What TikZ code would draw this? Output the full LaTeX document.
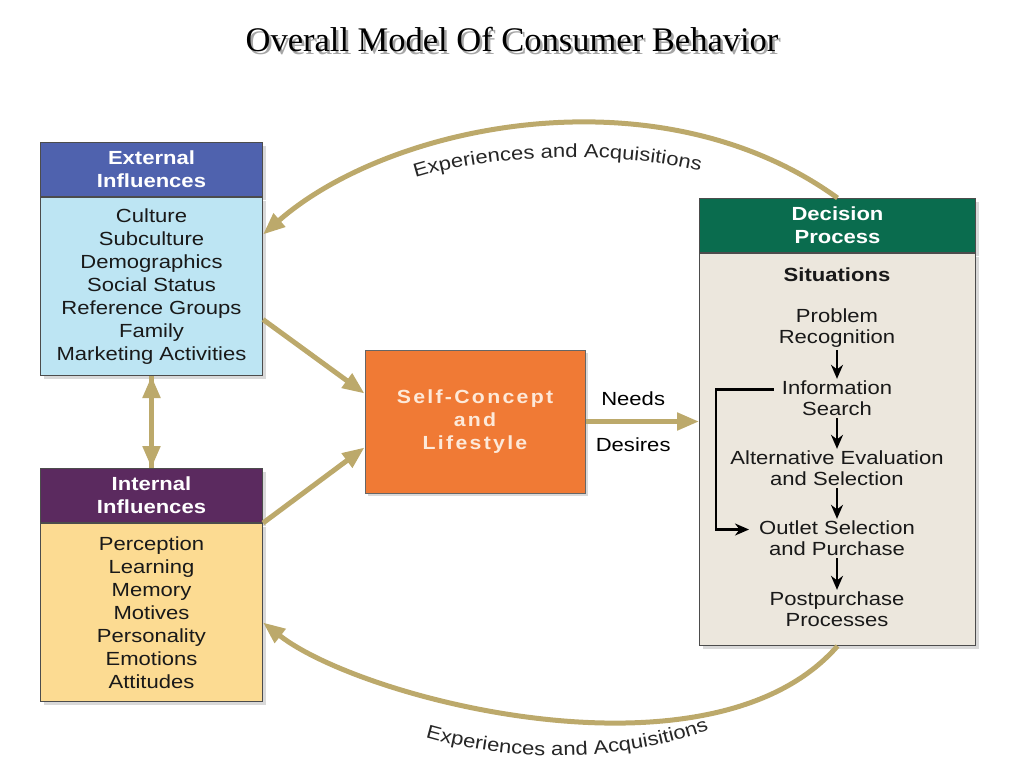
\documentclass[tikz,border=0pt]{standalone}
\usepackage{fontspec}
\setmainfont{Liberation Serif}
\newfontfamily\arial[FakeStretch=1.16]{Liberation Sans}
\newfontfamily\arialwide[FakeStretch=1.12,LetterSpace=12]{Liberation Sans}
\usetikzlibrary{arrows.meta,shadows,decorations.text}

\definecolor{extblue}{HTML}{4F62AE}
\definecolor{extlight}{HTML}{BDE5F3}
\definecolor{intpurple}{HTML}{5B2A5F}
\definecolor{intlight}{HTML}{FCDB92}
\definecolor{selforange}{HTML}{F07A35}
\definecolor{selftext}{HTML}{FDE9D9}
\definecolor{decgreen}{HTML}{0A6C4E}
\definecolor{declight}{HTML}{ECE7DD}
\definecolor{gold}{HTML}{BCA96B}

\newcommand{\titlefont}{\fontsize{34.5}{40}\selectfont}
\newcommand{\headfont}{\arial\bfseries\fontsize{19}{23}\selectfont}
\newcommand{\boxfont}{\arial\fontsize{19}{23}\selectfont}
\newcommand{\stagefont}{\arial\fontsize{19}{21}\selectfont}
\newcommand{\selffont}{\arialwide\bfseries\fontsize{19}{23}\selectfont}
\newcommand{\arcfont}{\arial\fontsize{19}{21}\selectfont\color{black!85}}

\begin{document}
\begin{tikzpicture}[x=1pt, y=-1pt,
  shade/.style={drop shadow={shadow xshift=3pt, shadow yshift=-3pt, opacity=0.3}},
  head/.style={draw=black!70, line width=1pt, text=white, font=\headfont, minimum width=222pt, minimum height=54pt, inner sep=0pt, align=center, shade},
  body/.style={draw=black!70, line width=1pt, text=black!90, font=\boxfont, minimum width=222pt, minimum height=178pt, inner sep=0pt, align=center, shade},
  stage/.style={font=\stagefont, text=black!90, align=center, inner sep=2pt},
  flow/.style={draw=gold, line width=5pt, >={Triangle[length=22pt,width=17pt]}},
  decarrow/.style={line width=2.2pt, -{Stealth[length=14pt,width=12pt]}},
  arclabel/.style={decorate, decoration={text along path, text align=center, text={|\arcfont|Experiences and Acquisitions}}}
]
  \useasboundingbox (0,0) rectangle (1024,768);

  % title
  \node[text=black!35, font=\titlefont] (titleshadow) at (514.5,42.5) {Overall Model Of Consumer Behavior};
  \node[font=\titlefont] (title) at (512,40) {Overall Model Of Consumer Behavior};

  % external influences
  \node[head, fill=extblue, anchor=north west] (exthead) at (40,142) {External\\Influences};
  \node[body, fill=extlight, anchor=north] (extbody) at (exthead.south) {Culture\\Subculture\\Demographics\\Social Status\\Reference Groups\\Family\\Marketing Activities};

  % internal influences
  \node[head, fill=intpurple, anchor=north west] (inthead) at (40,468) {Internal\\Influences};
  \node[body, fill=intlight, anchor=north] (intbody) at (inthead.south) {Perception\\Learning\\Memory\\Motives\\Personality\\Emotions\\Attitudes};

  % self-concept
  \node[draw=black!60, line width=1pt, fill=selforange, text=selftext, font=\selffont, minimum width=220pt, minimum height=143pt, align=center, shade] (self) at (475,421.5) {Self-Concept\\and\\Lifestyle};

  % decision process
  \node[head, fill=decgreen, minimum width=276pt, anchor=north west] (dechead) at (699,198) {Decision\\Process};
  \node[body, fill=declight, minimum width=276pt, minimum height=392pt, anchor=north] (decbody) at (dechead.south) {};
  \node[stage, font=\stagefont\bfseries] (sit) at (837,275) {Situations};
  \node[stage] (prob) at (837,328.5) {Problem\\Recognition};
  \node[stage] (info) at (837,398.5) {Information\\Search};
  \node[stage] (alt) at (837,468.5) {Alternative Evaluation\\and Selection};
  \node[stage] (outl) at (837,538.5) {Outlet Selection\\and Purchase};
  \node[stage] (post) at (837,609.5) {Postpurchase\\Processes};
  \foreach \a/\b in {prob/info, info/alt, alt/outl, outl/post}
    \draw[decarrow] (\a) -- (\b);
  \draw[decarrow, shorten <=6pt, shorten >=8pt] ([yshift=9pt]info.west) -- ++(-64,0) |- ([yshift=9pt]outl.west);

  % gold connectors
  \draw[flow, ->] (extbody.south) -- (inthead.north);
  \draw[flow, <-] (extbody.south) -- (inthead.north);
  \draw[flow, ->] ([yshift=-33pt]extbody.east) -- ([yshift=28pt]self.west);
  \draw[flow, ->] (intbody.north east) -- ([yshift=-26pt]self.west);
  \draw[flow, ->] (self.east) -- node[pos=0.42, above=10pt, font=\boxfont] {Needs} node[pos=0.42, below=10pt, font=\boxfont] {Desires} (self.east -| decbody.west);
  \draw[flow, ->] (dechead.north) .. controls (658,68) and (389,124) .. ([yshift=52pt]extbody.east);
  \draw[flow, ->] (decbody.south) .. controls (712,790) and (362,700) .. ([yshift=-10pt]intbody.east);
  \path[arclabel] (398,184) .. controls (488,150) and (632,150) .. (718,176);
  \path[arclabel] (414,734) .. controls (508,764) and (624,764) .. (720,726);
\end{tikzpicture}
\end{document}
